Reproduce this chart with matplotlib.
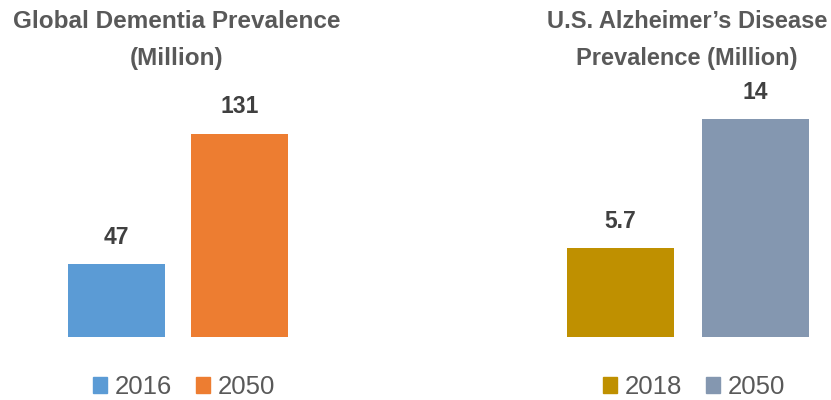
import matplotlib.pyplot as plt
from matplotlib.patches import Patch

plt.rcParams['font.family'] = ['Liberation Sans', 'DejaVu Sans']

W, H = 831, 400

# left panel: global dementia
global_years = ['2016', '2050']
global_values = [47, 131]
global_colors = ['#5B9BD5', '#ED7D31']
global_labels = ['47', '131']

# right panel: US alzheimer's
us_years = ['2018', '2050']
us_values = [5.7, 14]
us_colors = ['#BF9000', '#8497B0']
us_labels = ['5.7', '14']

title_color = '#595959'
label_color = '#404040'


def px_axes(fig, x0, x1, y_top, y_bottom):
    return fig.add_axes([x0 / W, 1 - y_bottom / H, (x1 - x0) / W, (y_bottom - y_top) / H])


def draw_panel(ax, values, colors, labels, width, ymax):
    xs = range(len(values))
    ax.bar(xs, values, width=width, color=colors)
    ax.set_xlim(-width / 2, len(values) - 1 + width / 2)
    ax.set_ylim(0, ymax)
    for x, v, lab in zip(xs, values, labels):
        ax.annotate(lab, (x, v), xytext=(0, 11), textcoords='offset points',
                    ha='center', va='bottom', fontsize=16.5, fontweight='bold',
                    color=label_color, annotation_clip=False)
    ax.axis('off')


fig = plt.figure(figsize=(W / 100, H / 100), dpi=100)

ax1 = px_axes(fig, 68, 288, 104, 337)
draw_panel(ax1, global_values, global_colors, global_labels, 0.789, 150)

ax2 = px_axes(fig, 567, 809, 88, 337)
draw_panel(ax2, us_values, us_colors, us_labels, 0.79, 16)

fig.text(177 / W, 1 - 40 / H, 'Global Dementia Prevalence\n(Million)', ha='center', va='center',
         fontsize=17.5, fontweight='bold', color=title_color, linespacing=1.75)
fig.text(687 / W, 1 - 40 / H, 'U.S. Alzheimer\u2019s Disease\nPrevalence (Million)', ha='center', va='center',
         fontsize=17, fontweight='bold', color=title_color, linespacing=1.8)

for years, colors, cx in [(global_years, global_colors, 184), (us_years, us_colors, 694)]:
    handles = [Patch(color=c, label=y) for y, c in zip(years, colors)]
    fig.legend(handles=handles, loc='center', bbox_to_anchor=(cx / W, 1 - 387 / H), ncol=2,
               frameon=False, fontsize=18.5, labelcolor=title_color, handlelength=0.55,
               handleheight=0.55, handletextpad=0.3, columnspacing=0.9)

fig.savefig('out.png', dpi=100)
